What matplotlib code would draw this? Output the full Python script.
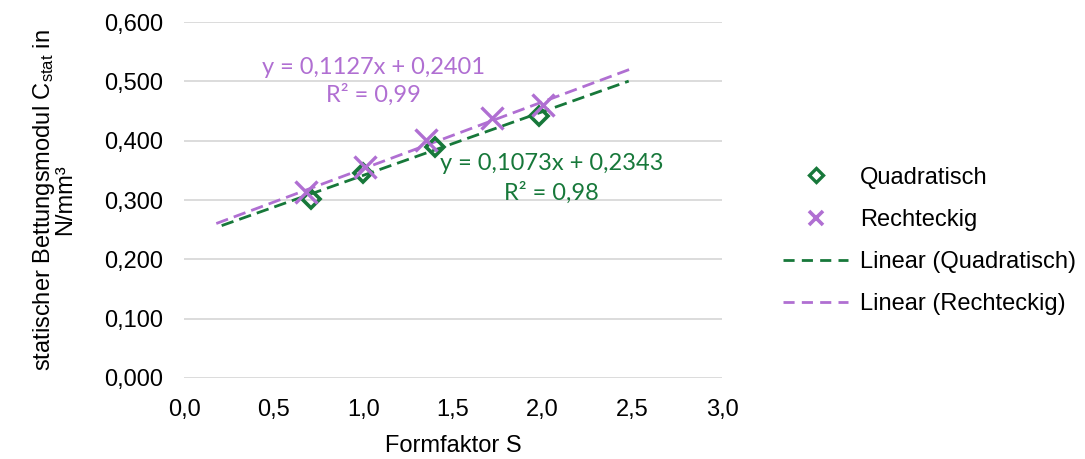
import matplotlib
matplotlib.use("Agg")
import matplotlib.pyplot as plt
import numpy as np
from matplotlib.lines import Line2D

# Messwerte
s_quad = [0.71, 1.00, 1.40, 1.98]
c_quad = [0.302, 0.345, 0.390, 0.441]
s_rect = [0.68, 1.01, 1.35, 1.72, 2.00]
c_rect = [0.313, 0.356, 0.401, 0.438, 0.460]

# Trendlinien (Steigung, Achsenabschnitt, Bestimmtheitsmaß)
fit_quad = (0.1073, 0.2343, 0.98)
fit_rect = (0.1127, 0.2401, 0.99)

x_ticks = [0.0, 0.5, 1.0, 1.5, 2.0, 2.5, 3.0]
y_ticks = [0.0, 0.1, 0.2, 0.3, 0.4, 0.5, 0.6]

green = "#17783a"
purple = "#b06fd2"
grid_col = "#d9d9d9"

plt.rcParams["font.family"] = ["Liberation Sans", "DejaVu Sans"]
plt.rcParams["mathtext.fontset"] = "custom"
plt.rcParams["mathtext.rm"] = "Liberation Sans"
plt.rcParams["mathtext.it"] = "Liberation Sans"

FS = 17
dash = (0, (4.5, 2.2))

fig = plt.figure(figsize=(10.85, 4.59), dpi=100)
ax = fig.add_axes([0.1696, 0.1765, 0.4958, 0.7755])

def trend(xs, fit, ext=0.5):
    x = np.array([min(xs) - ext, max(xs) + ext])
    return x, fit[0] * x + fit[1]

xq, yq = trend(s_quad, fit_quad)
xr, yr = trend(s_rect, fit_rect)
ax.plot(xq, yq, ls=dash, color=green, lw=2.0, zorder=3)
ax.plot(xr, yr, ls=dash, color=purple, lw=2.0, zorder=3)

ax.plot(s_quad, c_quad, ls="none", marker="D", ms=9, mfc="none",
        mec=green, mew=2.6, zorder=4)
ax.plot(s_rect, c_rect, ls="none", marker="x", ms=16, mec=purple,
        mew=2.4, zorder=5)

ax.set_xlim(0, 3.0)
ax.set_ylim(0, 0.6)
ax.set_xticks(x_ticks)
ax.set_yticks(y_ticks)
ax.set_xticklabels([f"{v:.1f}".replace(".", ",") for v in x_ticks])
ax.set_yticklabels([f"{v:.3f}".replace(".", ",") for v in y_ticks])
ax.tick_params(length=0, labelsize=FS, colors="#000000")
ax.tick_params(axis="x", pad=15)
ax.tick_params(axis="y", pad=15)
ax.yaxis.grid(True, color=grid_col, lw=1.3)
ax.set_axisbelow(True)
for sp in ax.spines.values():
    sp.set_visible(False)
ax.set_xlabel("Formfaktor S", fontsize=FS, labelpad=10)
ax.set_ylabel("statischer Bettungsmodul C$_{\\mathrm{stat}}$ in\nN/mm³",
              fontsize=FS, labelpad=20, linespacing=0.85)

eq_font = ["Lato", "DejaVu Sans"]
def eq_text(fit):
    return (f"y = {fit[0]:.4f}x + {fit[1]:.4f}".replace(".", ",")
            + "\n" + f"R² = {fit[2]:.2f}".replace(".", ","))

ax.text(1.056, 0.500, eq_text(fit_rect), color=purple, fontsize=FS,
        family=eq_font, ha="center", va="center", linespacing=1.35)
ax.text(2.05, 0.336, eq_text(fit_quad), color=green, fontsize=FS,
        family=eq_font, ha="center", va="center", linespacing=1.4)

legend_dash = (0, (4.0, 2.6))
handles = [
    Line2D([], [], ls="none", marker="D", ms=7, mfc="none", mec=green, mew=2.4),
    Line2D([], [], ls="none", marker="x", ms=10, mec=purple, mew=2.6),
    Line2D([], [], ls=legend_dash, color=green, lw=2.0),
    Line2D([], [], ls=legend_dash, color=purple, lw=2.0),
]
labels = ["Quadratisch", "Rechteckig", "Linear (Quadratisch)", "Linear (Rechteckig)"]
fig.legend(handles, labels, loc="center left", bbox_to_anchor=(0.7217, 0.475),
           frameon=False, fontsize=FS, handlelength=2.75, handletextpad=0.5,
           labelspacing=0.86, borderpad=0, borderaxespad=0)

fig.savefig("out.png", dpi=100)
